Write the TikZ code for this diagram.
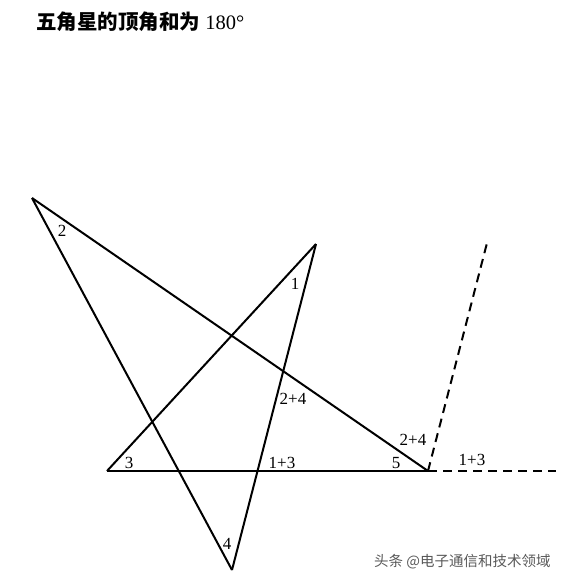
\documentclass[tikz,border=0pt]{standalone}
\usepackage{fontspec}
\setmainfont{Liberation Serif}
\newfontfamily\cjk{Noto Sans CJK SC}
\tikzset{
	side/.style = {line width = 2pt, draw = black, line join = round},
	extline/.style = {side, dash pattern = on 9pt off 6pt},
	anglelabel/.style = {inner sep = 0pt, font = \fontsize{17}{17}\selectfont},
	title/.style = {inner sep = 0pt, anchor = west, font = \fontsize{20.5}{20.5}\selectfont}
}
\tikzset{wmark/.style = {inner sep = 0pt, anchor = west, text = black!65, font = \cjk\fontsize{14.5}{14.5}\selectfont}}

\begin{document}
\begin{tikzpicture}[x = 1pt, y = -1pt]
	\useasboundingbox (0,0) rectangle (567,586);

	%% title
	\node (title) [title] at (36,22) {{\cjk\bfseries 五角星的顶角和为} 180°};

	%% star vertices
	\coordinate (two) at (32,198);
	\coordinate (one) at (316,244);
	\coordinate (three) at (107,471);
	\coordinate (five) at (428,471);
	\coordinate (four) at (232,570);
	% free ends of the dashed lines
	\coordinate (farright) at (556,471);
	\coordinate (farup) at (487,243);

	%% sides
	\draw [side] (two) -- (four);
	\draw [side] (two) -- (five);
	\draw [side] (three) -- (one);
	\draw [side] (one) -- (four);
	\draw [side] (three) -- (five);

	%% dashed lines
	\draw [extline] (five) -- (farright);
	\draw [extline] (five) -- (farup);

	%% angle labels
	\node (lbltwo) [anglelabel] at (62,231) {2};
	\node (lblone) [anglelabel] at (295,284) {1};
	\node (lblthree) [anglelabel] at (129,463) {3};
	\node (lblonethree) [anglelabel] at (282,463) {1+3};
	\node (lbltwofour) [anglelabel] at (293,399) {2+4};
	\node (lbltwofourb) [anglelabel] at (413,440) {2+4};
	\node (lblfive) [anglelabel] at (396,463) {5};
	\node (lblonethreeb) [anglelabel] at (472,460) {1+3};
	\node (lblfour) [anglelabel] at (227,544) {4};

	%% watermark
	\node (wm) [wmark] at (374,562) {头条 @电子通信和技术领域};
\end{tikzpicture}
\end{document}
